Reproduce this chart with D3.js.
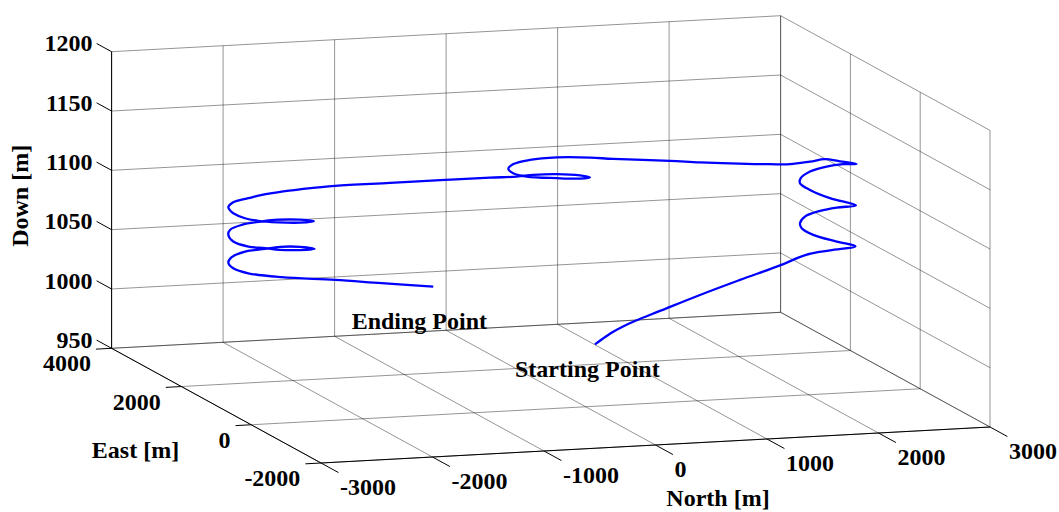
<!DOCTYPE html>
<html>
<head>
<meta charset="utf-8">
<title>Flight trajectory</title>
<script src="https://cdn.jsdelivr.net/npm/d3@7"></script>
<style>
body { margin: 0; background: #fff; }
text {
  font-family: "Liberation Serif", "Times New Roman", serif;
  font-weight: bold;
  font-size: 24px;
  fill: #000;
}
.grid line { stroke: #000; stroke-opacity: 0.42; stroke-width: 1; }
.axis line { stroke: #000; stroke-width: 1; }
.track { fill: none; stroke: #0000ff; stroke-width: 2.3; stroke-linejoin: round; }
</style>
</head>
<body>
<svg id="chart" width="1059" height="512"></svg>
<script>
// axis ticks
var northTicks = [-3000, -2000, -1000, 0, 1000, 2000, 3000];
var eastTicks  = [-2000, 0, 2000, 4000];
var downTicks  = [950, 1000, 1050, 1100, 1150, 1200];

// trajectory, start -> end
var trackNorth = [83, 171, 267, 373, 514, 760, 1166, 1572, 1977, 2242, 2473, 2711,
  2489, 2304, 2247, 2257, 2339, 2490, 2627, 2715,
  2432, 2284, 2257, 2276, 2394, 2546, 2670, 2720,
  2562, 2428, 2303, 2133, 1966, 1772, 1363, 1100, 599, 399,
  96, -137, -311, -406, -415, -341, -113, 112, 264, 249, 94, -110, -256, -489,
  -880, -1358, -1838, -2143,
  -2301, -2459, -2585, -2705, -2771, -2842, -2861, -2854, -2793, -2702,
  -2544, -2337, -2143, -2174, -2328, -2459,
  -2653, -2796, -2842, -2854, -2772, -2651,
  -2529, -2337, -2138, -2174, -2313, -2432,
  -2617, -2771, -2842, -2854, -2772,
  -2501, -2029, -1610, -1148];
var trackEast = [0, 50, 100, 150, 200, 300, 450, 600, 750, 850, 900, 930,
  760, 840, 990, 1070, 1190, 1240, 1200, 930,
  770, 870, 1070, 1110, 1220, 1230, 1150, 930,
  900, 900, 930, 960, 1000, 1040, 1080, 1100, 1130, 1150,
  1130, 1160, 1080, 920, 750, 600, 470, 520, 720, 960, 1130, 1150, 1160, 1180,
  1220, 1270, 1310, 1340,
  1360, 1420, 1410, 1350, 1290, 1160, 1050, 980, 840, 750,
  690, 720, 940, 1240, 1380, 1420,
  1380, 1260, 1160, 980, 810, 720,
  680, 720, 940, 1240, 1370, 1420,
  1400, 1290, 1160, 980, 810,
  720, 700, 700, 700];
var trackDown = [1002.1, 1005.9, 1009.7, 1013.0, 1016.9, 1022.1, 1031.1, 1039.3, 1047.1, 1053.0, 1054.8, 1056.5,
  1064.4, 1069.7, 1073.2, 1076.1, 1079.3, 1082.5, 1085.3, 1091.0,
  1101.1, 1107.2, 1109.8, 1113.3, 1116.5, 1119.8, 1122.4, 1126.0,
  1129.4, 1131.9, 1130.0, 1128.2, 1128.4, 1129.0, 1131.7, 1134.0, 1137.7, 1139.5,
  1141.5, 1140.1, 1138.7, 1137.7, 1136.9, 1136.1, 1135.7, 1133.4, 1130.4, 1128.3, 1127.4, 1127.5, 1126.6, 1126.6,
  1126.0, 1125.1, 1124.4, 1122.5,
  1121.1, 1118.2, 1116.2, 1115.5, 1114.8, 1113.9, 1113.1, 1111.8, 1109.5, 1108.3,
  1107.2, 1105.4, 1102.1, 1098.7, 1097.2, 1095.8,
  1094.5, 1092.9, 1090.6, 1087.9, 1086.0, 1085.5,
  1084.1, 1082.3, 1078.7, 1075.8, 1074.4, 1072.5,
  1071.5, 1069.3, 1067.2, 1065.4, 1063.5,
  1060.3, 1055.9, 1051.0, 1045.8];

// text annotations placed in data space
var notes     = ["Starting Point", "Ending Point"];
var noteNorth = [-634, -1880];
var noteEast  = [0, 700];
var noteDown  = [978, 1014];

var svg = d3.select("#chart");

// view: each axis scaled to [0,1], then laid onto screen directions
var x = d3.scaleLinear().domain([-3000, 3000]).range([0, 1]);
var y = d3.scaleLinear().domain([-2000, 4000]).range([0, 1]);
var z = d3.scaleLinear().domain([950, 1200]).range([0, 1]);
var origin = [321, 463];
var dirN = [669, -36], dirE = [-209.4, -114.7], dirZ = [0, -296.6];

function proj(n, e, d) {
  var a = x(n), b = y(e), c = z(d);
  return [origin[0] + a*dirN[0] + b*dirE[0] + c*dirZ[0],
          origin[1] + a*dirN[1] + b*dirE[1] + c*dirZ[1]];
}

var nMin = -3000, nMax = 3000, eMin = -2000, eMax = 4000, dMin = 950, dMax = 1200;

// grid: floor, back wall (east = max), side wall (north = max)
var grid = [];
northTicks.forEach(function(n) {
  grid.push([[n, eMin, dMin], [n, eMax, dMin]]);
  grid.push([[n, eMax, dMin], [n, eMax, dMax]]);
});
eastTicks.forEach(function(e) {
  grid.push([[nMin, e, dMin], [nMax, e, dMin]]);
  grid.push([[nMax, e, dMin], [nMax, e, dMax]]);
});
downTicks.forEach(function(d) {
  grid.push([[nMin, eMax, d], [nMax, eMax, d]]);
  grid.push([[nMax, eMin, d], [nMax, eMax, d]]);
});

function drawSegs(g, segs) {
  g.selectAll("line")
    .data(segs)
    .enter().append("line")
      .attr("x1", s => proj.apply(null, s[0])[0])
      .attr("y1", s => proj.apply(null, s[0])[1])
      .attr("x2", s => proj.apply(null, s[1])[0])
      .attr("y2", s => proj.apply(null, s[1])[1]);
}

drawSegs(svg.append("g").attr("class", "grid"), grid);

// axis lines and ticks
var axisSegs = [
  [[nMin, eMax, dMin], [nMin, eMax, dMax]],
  [[nMin, eMin, dMin], [nMin, eMax, dMin]],
  [[nMin, eMin, dMin], [nMax, eMin, dMin]]
];
downTicks.forEach(d => axisSegs.push([[nMin, eMax, d], [nMin, eMax + 430, d]]));
eastTicks.forEach(e => axisSegs.push([[nMin, e, dMin], [nMin - 140, e, dMin]]));
northTicks.forEach(n => axisSegs.push([[n, eMin, dMin], [n, eMin - 500, dMin]]));
drawSegs(svg.append("g").attr("class", "axis"), axisSegs);

// tick labels
var lab = svg.append("g");
downTicks.forEach(function(d) {
  var p = proj(nMin, eMax + 430, d);
  lab.append("text").attr("x", p[0] - 4).attr("y", p[1]).attr("dy", "0.33em")
    .attr("text-anchor", "end").text(String(d));
});
eastTicks.forEach(function(e) {
  var p = proj(nMin - 140, e, dMin);
  lab.append("text").attr("x", p[0] - 5).attr("y", p[1] + 22.3)
    .attr("text-anchor", "end").text(String(e));
});
northTicks.forEach(function(n) {
  var p = proj(n, eMin - 500, dMin);
  lab.append("text").attr("x", p[0] + 1.5).attr("y", p[1] + 22)
    .attr("text-anchor", "start").text(String(n));
});

// axis titles
lab.append("text").attr("transform", "translate(28.3,195.8) rotate(-90)")
  .attr("text-anchor", "middle").text("Down [m]");
lab.append("text").attr("x", 135.5).attr("y", 457.6)
  .attr("text-anchor", "middle").text("East [m]");
lab.append("text").attr("x", 718).attr("y", 506)
  .attr("text-anchor", "middle").text("North [m]");

// trajectory
var pts = trackNorth.map((n, i) => proj(n, trackEast[i], trackDown[i]));
var line = d3.line().curve(d3.curveCatmullRom.alpha(0.5));
svg.append("path").attr("class", "track").attr("d", line(pts));

// annotations
notes.forEach(function(t, i) {
  var p = proj(noteNorth[i], noteEast[i], noteDown[i]);
  svg.append("text").attr("x", p[0]).attr("y", p[1]).text(t);
});
</script>
</body>
</html>
